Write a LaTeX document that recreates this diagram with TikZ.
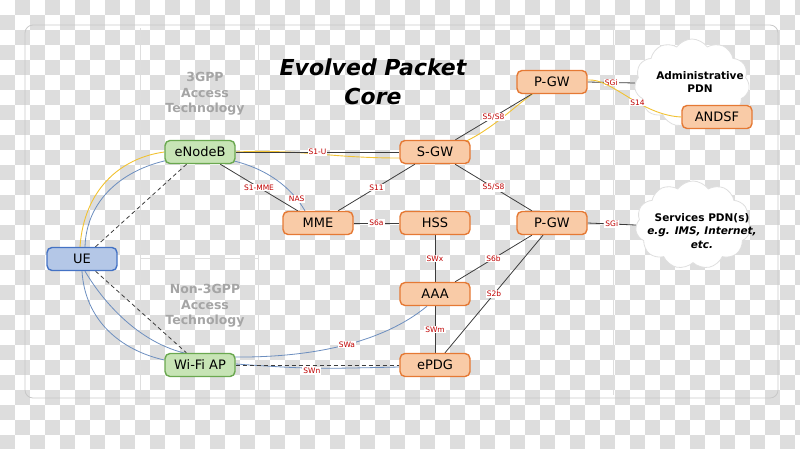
\documentclass[tikz,border=0pt]{standalone}
\usepackage{fontspec}
\setmainfont{DejaVu Sans}
\usetikzlibrary{positioning,shapes.symbols,calc}
\pgfdeclarelayer{board}
\pgfdeclarelayer{edges}
\pgfsetlayers{board,edges,main}
\definecolor{checkGrey}{RGB}{221,221,221}
\definecolor{frameGrey}{RGB}{200,200,200}
\definecolor{greenFill}{RGB}{199,228,181}
\definecolor{greenLine}{RGB}{106,168,79}
\definecolor{blueFill}{RGB}{180,199,231}
\definecolor{blueLine}{RGB}{68,114,196}
\definecolor{orangeFill}{RGB}{249,203,167}
\definecolor{orangeLine}{RGB}{229,121,52}
\definecolor{labelRed}{RGB}{192,0,0}
\definecolor{signalBlue}{RGB}{108,142,191}
\definecolor{userYellow}{RGB}{241,194,50}
\definecolor{linkGrey}{RGB}{60,60,60}
\definecolor{areaGrey}{RGB}{165,165,165}

\tikzset{
  elementBox/.style={rounded corners=5pt, line width=1.4pt, minimum width=70pt, minimum height=23pt, inner sep=0pt, font=\fontsize{13}{15}\selectfont},
  coreBox/.style={elementBox, fill=orangeFill, draw=orangeLine},
  accessBox/.style={elementBox, fill=greenFill, draw=greenLine},
  ueBox/.style={elementBox, fill=blueFill, draw=blueLine},
  linkLine/.style={draw=linkGrey, line width=0.8pt},
  radioLine/.style={linkLine, dash pattern=on 4pt off 3pt},
  signalLine/.style={draw=signalBlue, line width=0.8pt},
  userLine/.style={draw=userYellow, line width=0.9pt},
  ifaceLabel/.style={text=labelRed, fill=white, inner sep=1pt, font=\fontsize{7.5}{8}\selectfont},
  pdnCloud/.style={cloud, cloud puffs=11, cloud puff arc=110, aspect=1.3, fill=white, draw=gray!25, line width=0.8pt, minimum width=115pt, minimum height=88pt},
  pdnText/.style={align=center, font=\fontsize{10.5}{13.5}\selectfont\bfseries},
  areaText/.style={align=center, text=areaGrey, font=\fontsize{12.5}{15.5}\selectfont\bfseries},
}

\begin{document}
\begin{tikzpicture}[x=1pt,y=-1pt]
    \useasboundingbox (0,0) rectangle (800,448);

    \begin{pgfonlayer}{board}
    \foreach \i in {0,2,...,52}
      \foreach \j in {0,2,...,28} {
        \fill[checkGrey] (\i*15+15,\j*15) rectangle +(15,15);
        \fill[checkGrey] (\i*15,\j*15+15) rectangle +(15,15);
      }
    \draw[frameGrey, line width=0.8pt, rounded corners=8pt] (25,25) rectangle (778,398);
    \draw[frameGrey!60, line width=0.6pt] (140,28) -- (140,395) (258,28) -- (258,395) (140,258) -- (258,258) (613,28) -- (613,395);
    \end{pgfonlayer}

    \node[areaText] (area3gpp) at (205,94) {3GPP\\Access\\Technology};
    \node[areaText] (areaNon3gpp) at (205,306) {Non-3GPP\\Access\\Technology};
    \node[align=center, font=\fontsize{22}{29}\selectfont\bfseries\itshape] (title) at (373,82) {Evolved Packet\\Core};

    \node[ueBox] (ue) at (82,259) {UE};
    \node[accessBox] (eNodeB) at (200,152) {eNodeB};
    \node[accessBox] (wifiAP) at (200,365) {Wi-Fi AP};
    \node[coreBox] (mme) at (318,223) {MME};
    \node[coreBox] (hss) at (435,223) {HSS};
    \node[coreBox] (sgw) at (435,152) {S-GW};
    \node[coreBox] (aaa) at (435,294) {AAA};
    \node[coreBox] (epdg) at (435,365) {ePDG};
    \node[coreBox] (pgwTop) at (552,82) {P-GW};
    \node[coreBox] (pgwMid) at (552,223) {P-GW};
    \node[pdnCloud] (adminCloud) at (692,83) {};
    \node[pdnText] (adminPDN) at (700,82) {Administrative\\PDN};
    \node[pdnCloud] (servicesCloud) at (693,225) {};
    \node[pdnText] (servicesPDN) at (702,231) {Services PDN(s)\\\textit{e.g. IMS, Internet,}\\\textit{etc.}};
    \node[coreBox] (andsf) at (717,117) {ANDSF};
    \draw[userLine] ($(pgwTop.east)+(0,-2)$) .. controls (612,78) and (640,115) .. (andsf.west) node[ifaceLabel, pos=0.6] {S14};

    \begin{pgfonlayer}{edges}
    \draw[userLine] ($(ue.north)+(-2,0)$) .. controls (84,190) and (120,158) .. (eNodeB.west);
    \draw[userLine] (eNodeB.east) .. controls (300,149) and (330,158) .. ($(sgw.west)+(0,6)$);
    \draw[userLine] (sgw.center) .. controls (490,140) and (515,100) .. (pgwTop.center);

    \draw[signalLine] ($(ue.north)+(3,0)$) .. controls (88,145) and (255,125) .. ($(mme.north)+(-13,0)$) node[ifaceLabel, pos=0.95] {NAS};
    \draw[signalLine] (ue.south) .. controls (85,320) and (120,350) .. ($(wifiAP.west)+(0,-5)$);
    \draw[signalLine] ($(ue.south)+(3,0)$) .. controls (105,305) and (145,350) .. ($(wifiAP.north)+(0,3)$) .. controls (300,362) and (380,345) .. ($(aaa.south)+(-8,0)$) node[ifaceLabel, pos=0.56] {SWa};
    \draw[signalLine] ($(wifiAP.east)+(0,-1)$) .. controls (310,369) .. ($(epdg.west)+(0,2)$) node[ifaceLabel, midway, yshift=-3pt] {SWn};

    \draw[radioLine] (ue) -- (eNodeB);
    \draw[radioLine] (ue) -- (wifiAP);
    \draw[radioLine] (wifiAP) -- (epdg);

    \draw[linkLine] (eNodeB) -- (sgw) node[ifaceLabel, midway] {S1-U};
    \draw[linkLine] (eNodeB) -- (mme) node[ifaceLabel, midway] {S1-MME};
    \draw[linkLine] (sgw) -- (mme) node[ifaceLabel, midway] {S11};
    \draw[linkLine] (mme) -- (hss) node[ifaceLabel, midway] {S6a};
    \draw[linkLine] (sgw) -- (pgwTop) node[ifaceLabel, midway] {S5/S8};
    \draw[linkLine] (sgw) -- (pgwMid) node[ifaceLabel, midway] {S5/S8};
    \draw[linkLine] (pgwTop.east) -- (adminCloud.west) node[ifaceLabel, midway] {SGi};
    \draw[linkLine] (pgwMid.east) -- (servicesCloud.west) node[ifaceLabel, midway] {SGi};
    \draw[linkLine] (hss) -- (aaa) node[ifaceLabel, midway] {SWx};
    \draw[linkLine] (aaa) -- (epdg) node[ifaceLabel, midway] {SWm};
    \draw[linkLine] (aaa) -- (pgwMid) node[ifaceLabel, midway] {S6b};
    \draw[linkLine] ($(epdg.north)+(10,0)$) -- ($(pgwMid.south)+(-9,0)$) node[ifaceLabel, midway] {S2b};
    \end{pgfonlayer}
\end{tikzpicture}
\end{document}
